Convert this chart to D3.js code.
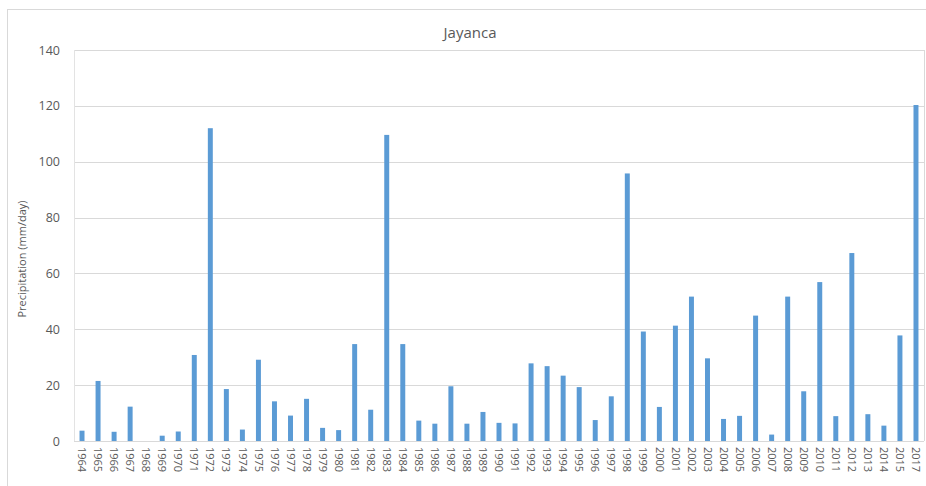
<!DOCTYPE html>
<html>
<head>
<meta charset="utf-8">
<script src="https://cdn.jsdelivr.net/npm/d3@7"></script>
<style>
  html, body { margin: 0; padding: 0; background: #fff; }
  svg { display: block; font-family: "Open Sans", "Noto Sans", sans-serif; }
</style>
</head>
<body>
<svg id="chart" width="926" height="486"></svg>
<script>
// Annual maximum daily precipitation at Jayanca station
const years = [
  "1964","1965","1966","1967","1968","1969","1970","1971","1972","1973",
  "1974","1975","1976","1977","1978","1979","1980","1981","1982","1983",
  "1984","1985","1986","1987","1988","1989","1990","1991","1992","1993",
  "1994","1995","1996","1997","1998","1999","2000","2001","2002","2003",
  "2004","2005","2006","2007","2008","2009","2010","2011","2012","2013",
  "2014","2015","2017"
];
const precipitation = [
  3.7, 21.5, 3.3, 12.3, 0, 1.9, 3.4, 30.8, 112, 18.6,
  4.1, 29.1, 14.2, 9.1, 15.1, 4.7, 3.9, 34.7, 11.2, 109.6,
  34.7, 7.3, 6.2, 19.6, 6.2, 10.4, 6.5, 6.3, 27.8, 26.8,
  23.4, 19.3, 7.5, 16.0, 95.8, 39.2, 12.2, 41.3, 51.7, 29.6,
  7.9, 9.0, 44.9, 2.3, 51.7, 17.8, 56.9, 8.9, 67.3, 9.6,
  5.5, 37.8, 120.3
];
const yTicks = [0, 20, 40, 60, 80, 100, 120, 140];
const title = "Jayanca";
const yTitle = "Precipitation (mm/day)";

const svg = d3.select("#chart");
const margin = { left: 74, right: 2, top: 50, bottom: 45 };
const W = 926, H = 486;

// Outer chart frame
svg.append("rect")
  .attr("x", 7.5).attr("y", 9.5)
  .attr("width", W + 10).attr("height", H + 10)
  .attr("fill", "none").attr("stroke", "#d9d9d9").attr("stroke-width", 1);

const x = d3.scaleBand()
  .domain(years)
  .range([margin.left, W - margin.right])
  .paddingInner(0.69).paddingOuter(0.345);

const y = d3.scaleLinear()
  .domain([0, 140])
  .range([441, 50]);

// Horizontal gridlines
svg.append("g")
  .selectAll("line")
  .data(yTicks)
  .join("line")
  .attr("x1", margin.left).attr("x2", W - margin.right)
  .attr("y1", d => Math.round(y(d)) + 0.5).attr("y2", d => Math.round(y(d)) + 0.5)
  .attr("stroke", "#d9d9d9").attr("stroke-width", 1);

// Plot side edges
svg.append("line")
  .attr("x1", margin.left + 0.5).attr("x2", margin.left + 0.5)
  .attr("y1", y(140)).attr("y2", y(0))
  .attr("stroke", "#e3e3e3");
svg.append("line")
  .attr("x1", W - margin.right + 0.5).attr("x2", W - margin.right + 0.5)
  .attr("y1", y(140)).attr("y2", y(0))
  .attr("stroke", "#d9d9d9");

// Bars
svg.append("g")
  .selectAll("rect")
  .data(precipitation)
  .join("rect")
  .attr("x", (d, i) => x(years[i]))
  .attr("y", d => y(d))
  .attr("width", x.bandwidth())
  .attr("height", d => y(0) - y(d))
  .attr("fill", "#5b9bd5");

// Y axis tick labels
const yAxis = d3.axisLeft(y).tickValues(yTicks).tickSize(0).tickPadding(14);
const gy = svg.append("g")
  .attr("transform", `translate(${margin.left},0)`)
  .call(yAxis);
gy.select(".domain").remove();
gy.selectAll("text")
  .attr("font-size", 12.5)
  .attr("fill", "#595959")
  .attr("font-family", "\"Open Sans\", sans-serif");

// X axis with vertical year labels
const xAxis = d3.axisBottom(x).tickSize(0).tickPadding(0);
const gx = svg.append("g")
  .attr("transform", `translate(0,${y(0)})`)
  .call(xAxis);
gx.select(".domain").remove();
gx.selectAll("text")
  .attr("transform", "rotate(90)")
  .attr("text-anchor", "start")
  .attr("x", 6)
  .attr("y", 0)
  .attr("dy", "0.35em")
  .attr("font-size", 11)
  .attr("fill", "#595959")
  .attr("font-family", "\"Open Sans\", sans-serif");

// Title
svg.append("text")
  .attr("x", 470).attr("y", 38)
  .attr("text-anchor", "middle")
  .attr("font-size", 15)
  .attr("fill", "#595959")
  .text(title);

// Y axis title
svg.append("text")
  .attr("transform", `translate(26,259) rotate(-90)`)
  .attr("text-anchor", "middle")
  .attr("font-size", 11)
  .attr("fill", "#595959")
  .text(yTitle);
</script>
</body>
</html>
